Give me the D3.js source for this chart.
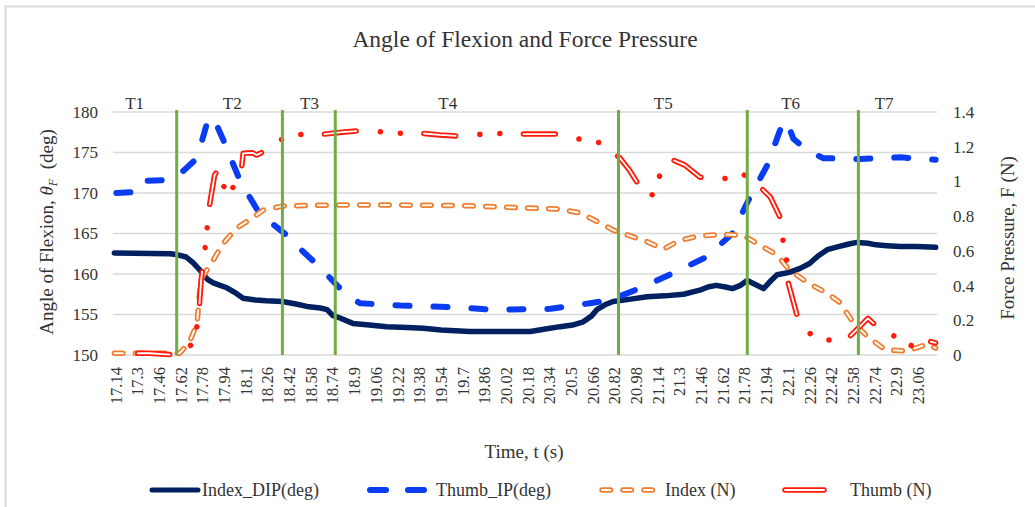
<!DOCTYPE html>
<html><head><meta charset="utf-8">
<script src="https://cdn.jsdelivr.net/npm/d3@7"></script>
<style>
body{margin:0;background:#fff}
svg text{font-family:"Liberation Serif","Times New Roman",serif !important;fill:#333}
</style>
</head><body><svg id="c" width="1035" height="507"></svg>
<script>
// ---------- data ----------
const tickLabels = ["17.14","17.3","17.46","17.62","17.78","17.94","18.1","18.26","18.42","18.58","18.74","18.9","19.06","19.22","19.38","19.54","19.7","19.86","20.02","20.18","20.34","20.5","20.66","20.82","20.98","21.14","21.3","21.46","21.62","21.78","21.94","22.1","22.26","22.42","22.58","22.74","22.9","23.06"];
const leftTicks = [150,155,160,165,170,175,180];
const rightTicks = [0,0.2,0.4,0.6,0.8,1,1.2,1.4];
const phaseTimes = [17.60,18.38,18.77,20.86,21.81,22.63];
const phaseNames = ["T1","T2","T3","T4","T5","T6","T7"];
const phaseLabelTimes = [17.29,18.01,18.58,19.60,21.19,22.13,22.82];

const indexDipTime = [17.14,17.55,17.60,17.67,17.72,17.77,17.83,17.87,17.92,17.97,18.04,18.09,18.18,18.26,18.38,18.48,18.56,18.66,18.71,18.75,18.80,18.90,19.02,19.15,19.30,19.42,19.55,19.76,20.00,20.21,20.32,20.43,20.52,20.60,20.66,20.70,20.76,20.82,20.95,21.07,21.20,21.34,21.46,21.52,21.58,21.65,21.70,21.76,21.81,21.87,21.93,21.98,22.03,22.12,22.20,22.27,22.33,22.40,22.49,22.56,22.62,22.70,22.76,22.84,22.94,23.06,23.20];
const indexDipDeg = [162.6,162.5,162.4,162.1,161.4,160.5,159.3,158.9,158.6,158.3,157.6,157.0,156.8,156.7,156.6,156.3,156.0,155.8,155.6,154.9,154.6,153.9,153.7,153.5,153.4,153.3,153.1,152.9,152.9,152.9,153.2,153.5,153.7,154.1,154.8,155.6,156.2,156.6,156.9,157.2,157.3,157.5,158.0,158.4,158.6,158.4,158.2,158.6,159.2,158.7,158.2,159.1,159.9,160.2,160.7,161.3,162.2,163.0,163.4,163.7,163.9,163.8,163.6,163.5,163.4,163.4,163.3];

const thumbIpTime = [17.14,17.27,17.32,17.35,17.53,17.64,17.75,17.83,17.85,17.90,17.94,18.07,18.21,18.44,18.53,18.64,18.83,18.95,19.25,19.65,19.93,20.36,20.65,20.80,21.04,21.26,21.51,21.70,21.83,21.96,22.07,22.10,22.15,22.25,22.37,22.64,22.94,23.20];
const thumbIpDeg = [170.0,170.1,170.3,171.5,171.6,172.6,174.3,179.0,179.4,178.2,176.7,171.4,167.5,164.4,162.8,161.1,157.8,156.4,156.1,155.9,155.6,155.7,156.4,156.8,158.4,160.1,162.1,165.0,169.5,173.5,178.6,178.9,176.7,175.3,174.3,174.2,174.4,174.1];

const indexForceTime = [17.14,17.62,17.69,17.75,17.77,17.79,17.87,17.94,18.04,18.14,18.24,18.38,18.75,19.25,19.76,20.08,20.43,20.58,20.70,20.82,20.97,21.07,21.19,21.31,21.46,21.63,21.78,21.88,22.03,22.12,22.25,22.40,22.49,22.59,22.70,22.83,22.99,23.14,23.20];
const indexForceN = [0.01,0.01,0.067,0.18,0.37,0.45,0.547,0.64,0.73,0.78,0.835,0.858,0.864,0.864,0.86,0.85,0.84,0.818,0.77,0.72,0.68,0.653,0.61,0.66,0.687,0.695,0.69,0.643,0.576,0.49,0.42,0.355,0.305,0.19,0.104,0.029,0.023,0.063,0.04];

const thumbForceTime = [17.14,17.40,17.60,17.66,17.72,17.76,17.78,17.80,17.82,17.83,17.88,17.90,17.94,17.97,18.01,18.08,18.09,18.16,18.19,18.25,18.36,18.51,18.67,18.84,18.95,19.11,19.25,19.41,19.54,19.66,19.83,19.99,20.13,20.43,20.57,20.72,20.83,20.87,20.94,21.01,21.10,21.16,21.25,21.35,21.46,21.63,21.78,21.89,21.98,22.05,22.07,22.10,22.11,22.19,22.28,22.41,22.54,22.70,22.81,22.94,23.05,23.12,23.20];
const thumbForceN = [0.01,0.01,0.0,0.02,0.07,0.20,0.43,0.557,0.68,0.806,1.037,1.06,0.956,1.01,0.956,1.085,1.162,1.165,1.152,1.175,1.238,1.271,1.271,1.285,1.292,1.286,1.277,1.277,1.268,1.262,1.271,1.277,1.273,1.273,1.244,1.223,1.162,1.135,1.066,0.979,0.908,1.027,1.127,1.094,1.025,1.014,1.041,0.979,0.91,0.797,0.676,0.547,0.422,0.192,0.119,0.086,0.086,0.211,0.134,0.096,0.039,0.086,0.07];

const seriesNames = ["Index_DIP(deg)","Thumb_IP(deg)","Index (N)","Thumb (N)"];
const anchorDotTime = 19.25; // one of the dot-dot marks of the Thumb (N) dash pattern

// ---------- layout ----------
const FONT = '"Liberation Serif","Times New Roman",serif';
const svg = d3.select("#c");
const L = 113, R = 937, T = 112, B = 355;
const navy = "#002060", blue = "#0A3CF2", orange = "#ED7D31", red = "#FF1A0A", green = "#70AD47";

svg.append("rect").attr("x",5.5).attr("y",6.5).attr("width",1060).attr("height",530)
  .attr("fill","#fff").attr("stroke","#d9d9d9").attr("stroke-width",2);

const x = d3.scaleLinear().domain([17.13,23.21]).range([L,R]);
const yL = d3.scaleLinear().domain([150,180]).range([B,T]);
const yR = d3.scaleLinear().domain([0,1.4]).range([B,T]);

// gridlines
svg.append("g").selectAll("line").data(leftTicks).join("line")
  .attr("x1",L).attr("x2",R).attr("y1",d=>yL(d)).attr("y2",d=>yL(d))
  .attr("stroke","#d9d9d9").attr("stroke-width",1.6);

// axes
const gl = svg.append("g").attr("transform",`translate(${L},0)`)
  .call(d3.axisLeft(yL).tickValues(leftTicks).tickSize(0).tickPadding(15));
gl.attr("font-family",FONT);
gl.select(".domain").remove();
gl.selectAll("text").style("font-family",FONT).style("font-size","17px").attr("fill","#333");

const gr = svg.append("g").attr("transform",`translate(${R},0)`)
  .call(d3.axisRight(yR).tickValues(rightTicks).tickSize(0).tickPadding(16).tickFormat(d3.format("~g")));
gr.attr("font-family",FONT);
gr.select(".domain").remove();
gr.selectAll("text").style("font-family",FONT).style("font-size","17px").attr("fill","#333");

const gx = svg.append("g").attr("transform",`translate(0,${B})`)
  .call(d3.axisBottom(x).tickValues(tickLabels.map(Number)).tickSize(0).tickFormat((d,i)=>tickLabels[i]));
gx.attr("font-family",FONT);
gx.select(".domain").remove();
gx.selectAll("text").style("font-family",FONT).style("font-size","16.5px").attr("fill","#333")
  .attr("transform","rotate(-90)").attr("text-anchor","end")
  .attr("x",-12).attr("y",1).attr("dy","0.35em");

// titles
svg.append("text").attr("x",525).attr("y",47).attr("text-anchor","middle")
  .style("font-size","23.5px").attr("fill","#222").text("Angle of Flexion and Force Pressure");
svg.append("text").attr("x",524).attr("y",458).attr("text-anchor","middle")
  .style("font-size","19px").text("Time, t (s)");
const lt = svg.append("text").attr("transform","translate(53,232) rotate(-90)").attr("text-anchor","middle")
  .style("font-size","19px");
lt.append("tspan").text("Angle of Flexion, ");
lt.append("tspan").style("font-style","italic").text("θ");
lt.append("tspan").style("font-style","italic").style("font-size","12px").attr("dy",4).text("F");
lt.append("tspan").attr("dy",-4).text("\u00a0\u00a0(deg)");
svg.append("text").attr("transform","translate(1014,238) rotate(-90)").attr("text-anchor","middle")
  .style("font-size","19px").text("Force Pressure, F (N)");

// ---------- series ----------
const zip = (a,b)=>a.map((t,i)=>[t,b[i]]);
const lineL = d3.line().x(d=>x(d[0])).y(d=>yL(d[1]));
const lineR = d3.line().x(d=>x(d[0])).y(d=>yR(d[1]));

const dip = zip(indexDipTime,indexDipDeg);
const ip = zip(thumbIpTime,thumbIpDeg);
const iF = zip(indexForceTime,indexForceN);
const tF = zip(thumbForceTime,thumbForceN);

svg.append("path").attr("d",lineL(dip)).attr("fill","none").attr("stroke",navy)
  .attr("stroke-width",5.5).attr("stroke-linejoin","round").attr("stroke-linecap","round");

svg.append("path").attr("d",lineL(ip)).attr("fill","none").attr("stroke",blue)
  .attr("stroke-width",6).attr("stroke-linecap","round").attr("stroke-linejoin","round")
  .attr("stroke-dasharray","14 24").attr("stroke-dashoffset",-2);

// Index (N): compound dashed line
const oDash = "8.5 12.5";
svg.append("path").attr("d",lineR(iF)).attr("fill","none").attr("stroke",orange)
  .attr("stroke-width",5.5).attr("stroke-linecap","round").attr("stroke-linejoin","round")
  .attr("stroke-dasharray",oDash);
svg.append("path").attr("d",lineR(iF)).attr("fill","none").attr("stroke","#fff8f2")
  .attr("stroke-width",2).attr("stroke-linecap","round").attr("stroke-linejoin","round")
  .attr("stroke-dasharray",oDash);

// Thumb (N): compound long-dash-dot-dot line
const pat = [32,24.2,0.01,20,0.01,23.5];
const period = d3.sum(pat);
const ai = thumbForceTime.indexOf(anchorDotTime);
const tmp = svg.append("path").attr("d",lineR(tF.slice(0,ai+1)));
const Lanchor = tmp.node().getTotalLength();
tmp.remove();
const off = ((pat[0]+pat[1]+pat[2]+pat[3] - Lanchor) % period + period) % period;
svg.append("path").attr("d",lineR(tF)).attr("fill","none").attr("stroke",red)
  .attr("stroke-width",5.5).attr("stroke-linecap","round").attr("stroke-linejoin","round")
  .attr("stroke-dasharray",pat.join(" ")).attr("stroke-dashoffset",off);
svg.append("path").attr("d",lineR(tF)).attr("fill","none").attr("stroke","#fff")
  .attr("stroke-width",1.8).attr("stroke-linecap","round").attr("stroke-linejoin","round")
  .attr("stroke-dasharray",`${pat[0]} ${period-pat[0]}`).attr("stroke-dashoffset",off);

// phase markers
svg.append("g").selectAll("line").data(phaseTimes).join("line")
  .attr("x1",d=>x(d)).attr("x2",d=>x(d)).attr("y1",110).attr("y2",B)
  .attr("stroke",green).attr("stroke-width",3);
svg.append("g").selectAll("text").data(phaseNames).join("text")
  .attr("x",(d,i)=>x(phaseLabelTimes[i])).attr("y",109).attr("text-anchor","middle")
  .style("font-size","17px").text(d=>d);

// ---------- legend ----------
const ly = 490;
const lg = svg.append("g");
lg.append("line").attr("x1",152).attr("x2",198).attr("y1",ly).attr("y2",ly)
  .attr("stroke",navy).attr("stroke-width",5).attr("stroke-linecap","round");
lg.append("line").attr("x1",370).attr("x2",428).attr("y1",ly).attr("y2",ly)
  .attr("stroke",blue).attr("stroke-width",6).attr("stroke-linecap","round").attr("stroke-dasharray","16 22");
lg.append("line").attr("x1",602).attr("x2",662).attr("y1",ly).attr("y2",ly)
  .attr("stroke",orange).attr("stroke-width",5.5).attr("stroke-linecap","round").attr("stroke-dasharray",oDash);
lg.append("line").attr("x1",602).attr("x2",662).attr("y1",ly).attr("y2",ly)
  .attr("stroke","#fff8f2").attr("stroke-width",2).attr("stroke-linecap","round").attr("stroke-dasharray",oDash);
lg.append("line").attr("x1",785).attr("x2",824).attr("y1",ly).attr("y2",ly)
  .attr("stroke",red).attr("stroke-width",5.5).attr("stroke-linecap","round");
lg.append("line").attr("x1",785).attr("x2",824).attr("y1",ly).attr("y2",ly)
  .attr("stroke","#fff").attr("stroke-width",1.8).attr("stroke-linecap","round");
const legX = [202,436,665,850];
lg.selectAll("text").data(seriesNames).join("text")
  .attr("x",(d,i)=>legX[i]).attr("y",ly+6).style("font-size","18px").text(d=>d);
</script>
</body></html>
